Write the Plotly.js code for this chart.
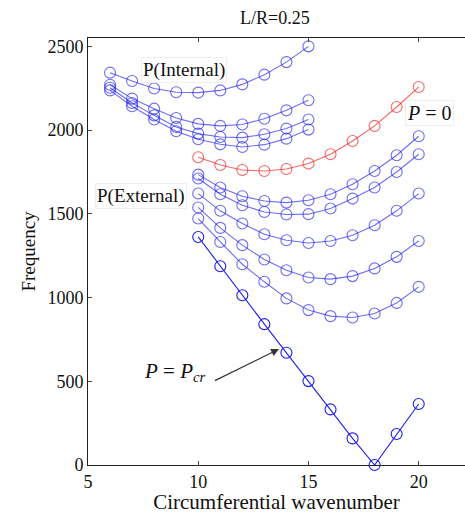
<!DOCTYPE html>
<html><head><meta charset="utf-8">
<script src="https://cdn.plot.ly/plotly-3.0.1.min.js"></script>
<style>html,body{margin:0;padding:0;background:#fff;overflow:hidden}#plot{width:465px;height:514px}</style>
</head><body><div id="plot"></div>
<script>
// Data
const xInternal = [6,7,8,9,10,11,12,13,14,15];
const internal1 = [2343,2293,2248,2226,2224,2237,2273,2331,2406,2500];
const internal2 = [2271,2188,2128,2072,2037,2025,2033,2068,2118,2178];
const internal3 = [2253,2162,2088,2019,1979,1959,1955,1975,2009,2063];
const internal4 = [2237,2142,2063,1993,1945,1915,1899,1913,1949,2003];

const xExternal = [10,11,12,13,14,15,16,17,18,19,20];
const pZero     = [1838,1792,1762,1756,1768,1800,1856,1935,2025,2138,2257];
const external1 = [1734,1657,1605,1577,1567,1581,1617,1677,1756,1850,1963];
const external2 = [1711,1617,1551,1511,1496,1498,1532,1591,1657,1750,1856];
const external3 = [1621,1518,1442,1378,1342,1326,1338,1372,1432,1518,1621];
const external4 = [1538,1416,1313,1227,1163,1120,1110,1128,1174,1243,1338];
const external5 = [1472,1332,1199,1094,995,925,889,881,905,968,1064];
const pCritical = [1362,1187,1014,841,670,501,332,159,0,185,364];

const blue = 'rgba(30,30,240,0.65)';
const red = 'rgba(240,40,40,0.7)';
const darkBlue = '#1f1fe8';

function tr(x, y, color) {
  return {x: x, y: y, type: 'scatter', mode: 'lines+markers',
    line: {color: color, width: 1.1},
    marker: {symbol: 'circle-open', size: 11, color: color, line: {width: 1.1, color: color}},
    showlegend: false, hoverinfo: 'skip', cliponaxis: false};
}

const data = [
  tr(xInternal, internal1, blue),
  tr(xInternal, internal2, blue),
  tr(xInternal, internal3, blue),
  tr(xInternal, internal4, blue),
  tr(xExternal, pZero, red),
  tr(xExternal, external1, blue),
  tr(xExternal, external2, blue),
  tr(xExternal, external3, blue),
  tr(xExternal, external4, blue),
  tr(xExternal, external5, blue),
  tr(xExternal, pCritical, darkBlue)
];

const serif = 'Liberation Serif, Times New Roman, serif';
const layout = {
  width: 465, height: 514,
  margin: {l: 88, r: 0, t: 38, b: 49},
  paper_bgcolor: '#fff', plot_bgcolor: '#fff',
  title: {text: 'L/R=0.25', x: 0.591, xanchor: 'center', y: 0.965, yanchor: 'middle',
          font: {family: serif, size: 18, color: '#111'}},
  xaxis: {range: [5, 22.1], tickvals: [5, 10, 15, 20], ticks: 'inside', ticklen: 4,
          showline: true, linecolor: '#222', linewidth: 1, mirror: 'ticks', showgrid: false, zeroline: false,
          tickfont: {family: serif, size: 18, color: '#111'},
          title: {text: 'Circumferential wavenumber', standoff: 2, font: {family: serif, size: 21, color: '#111'}}},
  yaxis: {range: [0, 2550], tickvals: [0, 500, 1000, 1500, 2000, 2500], ticks: 'inside', ticklen: 4,
          showline: true, linecolor: '#222', linewidth: 1, showgrid: false, zeroline: false,
          tickfont: {family: serif, size: 18, color: '#111'},
          title: {text: 'Frequency', standoff: 6, font: {family: serif, size: 19, color: '#111'}}},
  annotations: [
    {x: 9.37, y: 2358, text: 'P(Internal)', showarrow: false, font: {family: serif, size: 19, color: '#111'},
     bgcolor: '#fff', bordercolor: '#eee', borderwidth: 1, borderpad: 1},
    {x: 7.39, y: 1606, text: 'P(External)', showarrow: false, font: {family: serif, size: 19, color: '#111'},
     bgcolor: '#fff', bordercolor: '#eee', borderwidth: 1, borderpad: 1},
    {x: 20.5, y: 2101, text: '<i>P</i> = 0', showarrow: false, font: {family: serif, size: 20, color: '#111'},
     bgcolor: '#fff', bordercolor: '#eee', borderwidth: 1, borderpad: 1},
    {x: 8.95, y: 555, text: '<i>P</i> = <i>P<sub>cr</sub></i>', showarrow: false, font: {family: serif, size: 21, color: '#111'},
     bgcolor: '#fff', borderpad: 1},
    {x: 13.66, y: 692, text: ' ', showarrow: true, arrowhead: 2, arrowsize: 1.3, arrowwidth: 1.2, arrowcolor: '#333',
     ax: -67, ay: 33, standoff: 0}
  ]
};

Plotly.newPlot('plot', data, layout, {displayModeBar: false, staticPlot: true});
</script>
</body></html>
